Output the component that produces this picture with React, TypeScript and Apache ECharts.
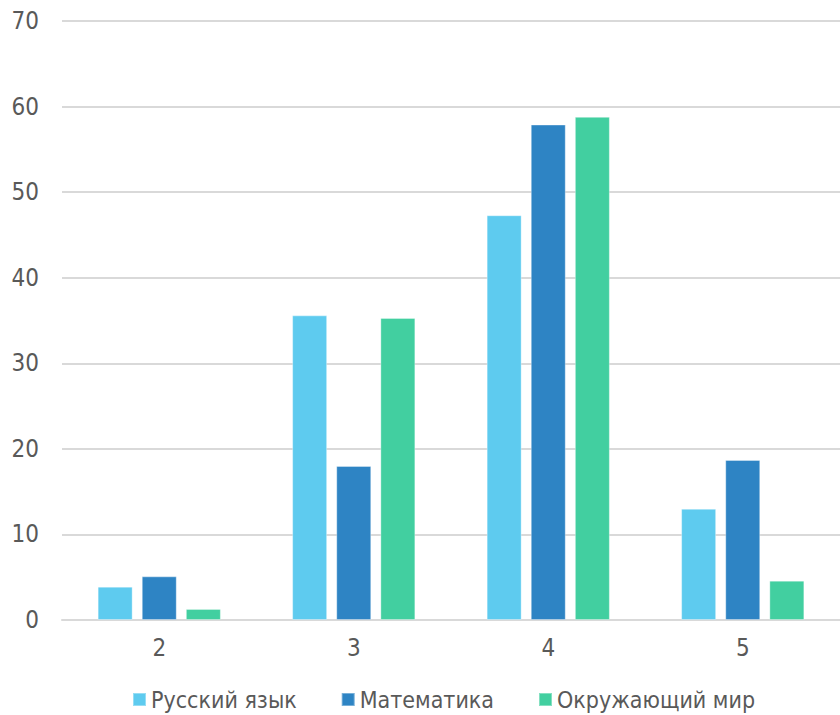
import React, { useEffect, useRef } from "react";
import * as echarts from "echarts";

const categories = ["2", "3", "4", "5"];
const russian = [3.9, 35.6, 47.3, 13.0];
const math = [5.1, 18.0, 57.9, 18.7];
const world = [1.3, 35.3, 58.8, 4.6];
const seriesNames = ["Русский язык", "Математика", "Окружающий мир"];
const colors = ["#5ECBEF", "#2E84C4", "#42CFA0"];

export default function App() {
  const ref = useRef<HTMLDivElement>(null);
  useEffect(() => {
    const chart = echarts.init(ref.current!, null, { renderer: "svg" });
    const font = "'Liberation Sans Narrow', 'DejaVu Sans Condensed', sans-serif";
    const mk = (name: string, data: number[], color: string) => ({
      name,
      type: "bar",
      data,
      barWidth: 35,
      barGap: "26%",
      itemStyle: { color, borderColor: "rgba(255,255,255,0.35)", borderWidth: 1 },
    });
    chart.setOption({
      animation: false,
      color: colors,
      grid: { left: 62, right: 0, top: 21, bottom: 95, containLabel: false },
      legend: {
        top: 688,
        left: 132,
        padding: 0,
        itemWidth: 13,
        itemHeight: 13,
        itemGap: 44,
        icon: "rect",
        textStyle: { color: "#595959", fontSize: 23, fontFamily: font },
        data: seriesNames,
      },
      xAxis: {
        type: "category",
        data: categories,
        axisLine: { lineStyle: { color: "#d9d9d9", width: 2 } },
        axisTick: { show: false },
        axisLabel: { color: "#595959", fontSize: 24, fontFamily: font, margin: 16 },
      },
      yAxis: {
        type: "value",
        min: 0,
        max: 70,
        interval: 10,
        axisLine: { show: false },
        axisTick: { show: false },
        splitLine: { lineStyle: { color: "#d9d9d9", width: 2 } },
        axisLabel: { color: "#595959", fontSize: 24, fontFamily: font, margin: 23 },
      },
      series: [
        mk(seriesNames[0], russian, colors[0]),
        mk(seriesNames[1], math, colors[1]),
        mk(seriesNames[2], world, colors[2]),
      ],
    });
    return () => chart.dispose();
  }, []);
  return <div ref={ref} style={{ width: 840, height: 715, position: "absolute", left: 0, top: 0 }} />;
}
